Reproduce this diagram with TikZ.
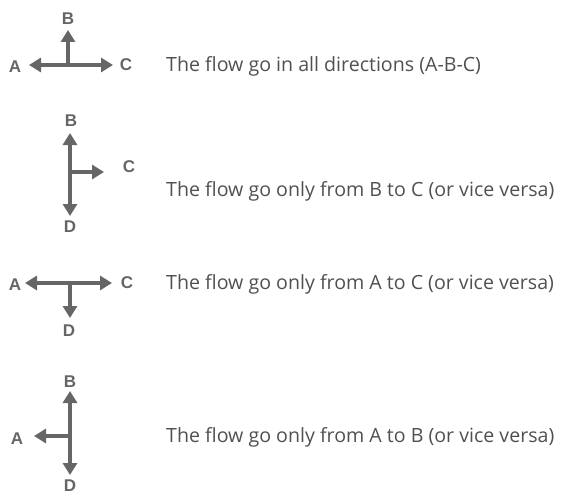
\documentclass[tikz,border=0pt]{standalone}
\usepackage{fontspec}
\setmainfont{Open Sans}
\newfontfamily\lblfont{Liberation Sans}
\usetikzlibrary{arrows.meta}
\definecolor{arrowgrey}{HTML}{666666}
\definecolor{txtgrey}{HTML}{505050}
\tikzset{
  flow/.style={draw=arrowgrey, line width=4.4pt, -{Triangle[length=12pt,width=14pt]}},
  flowboth/.style={draw=arrowgrey, line width=4.4pt, {Triangle[length=12pt,width=14pt]}-{Triangle[length=12pt,width=14pt]}},
  lbl/.style={font=\lblfont\bfseries\fontsize{17}{17}\selectfont, text=arrowgrey, inner sep=0pt},
  desc/.style={font=\fontsize{19.6}{22}\selectfont, text=txtgrey, anchor=base west, inner sep=0pt}
}
\begin{document}
\begin{tikzpicture}[x=1pt,y=-1pt]
\useasboundingbox (0,0) rectangle (567,495);
% Diagram 1
\coordinate (j1) at (68,65);
\coordinate (a1) at (29,65);
\coordinate (c1) at (113,65);
\coordinate (b1) at (68,30);
\draw[flowboth] (a1) -- (c1);
\draw[flow] (j1) -- (b1);
\node[lbl] (A1) at (15,67) {A};
\node[lbl] (B1) at (68,19) {B};
\node[lbl] (C1) at (126,65) {C};
\node[desc] (t1) at (166,71) {The flow go in all directions (A-B-C)};
% Diagram 2
\coordinate (b2) at (70,133);
\coordinate (d2) at (70,216);
\coordinate (j2) at (70,172);
\coordinate (c2) at (104,172);
\draw[flowboth] (b2) -- (d2);
\draw[flow] (j2) -- (c2);
\node[lbl] (B2) at (71,121) {B};
\node[lbl] (C2) at (129,167) {C};
\node[lbl] (D2) at (70,227) {D};
\node[desc] (t2) at (166,196) {The flow go only from B to C (or vice versa)};
% Diagram 3
\coordinate (a3) at (25,283);
\coordinate (c3) at (112,283);
\coordinate (j3) at (70,283);
\coordinate (d3) at (70,318);
\draw[flowboth] (a3) -- (c3);
\draw[flow] (j3) -- (d3);
\node[lbl] (A3) at (15,285) {A};
\node[lbl] (C3) at (127,283) {C};
\node[lbl] (D3) at (69,331) {D};
\node[desc] (t3) at (166,289) {The flow go only from A to C (or vice versa)};
% Diagram 4
\coordinate (b4) at (70,391);
\coordinate (d4) at (70,475);
\coordinate (j4) at (70,436);
\coordinate (a4) at (34,436);
\draw[flowboth] (b4) -- (d4);
\draw[flow] (j4) -- (a4);
\node[lbl] (B4) at (70,382) {B};
\node[lbl] (A4) at (17,439) {A};
\node[lbl] (D4) at (70,486) {D};
\node[desc] (t4) at (166,442) {The flow go only from A to B (or vice versa)};
\end{tikzpicture}
\end{document}
